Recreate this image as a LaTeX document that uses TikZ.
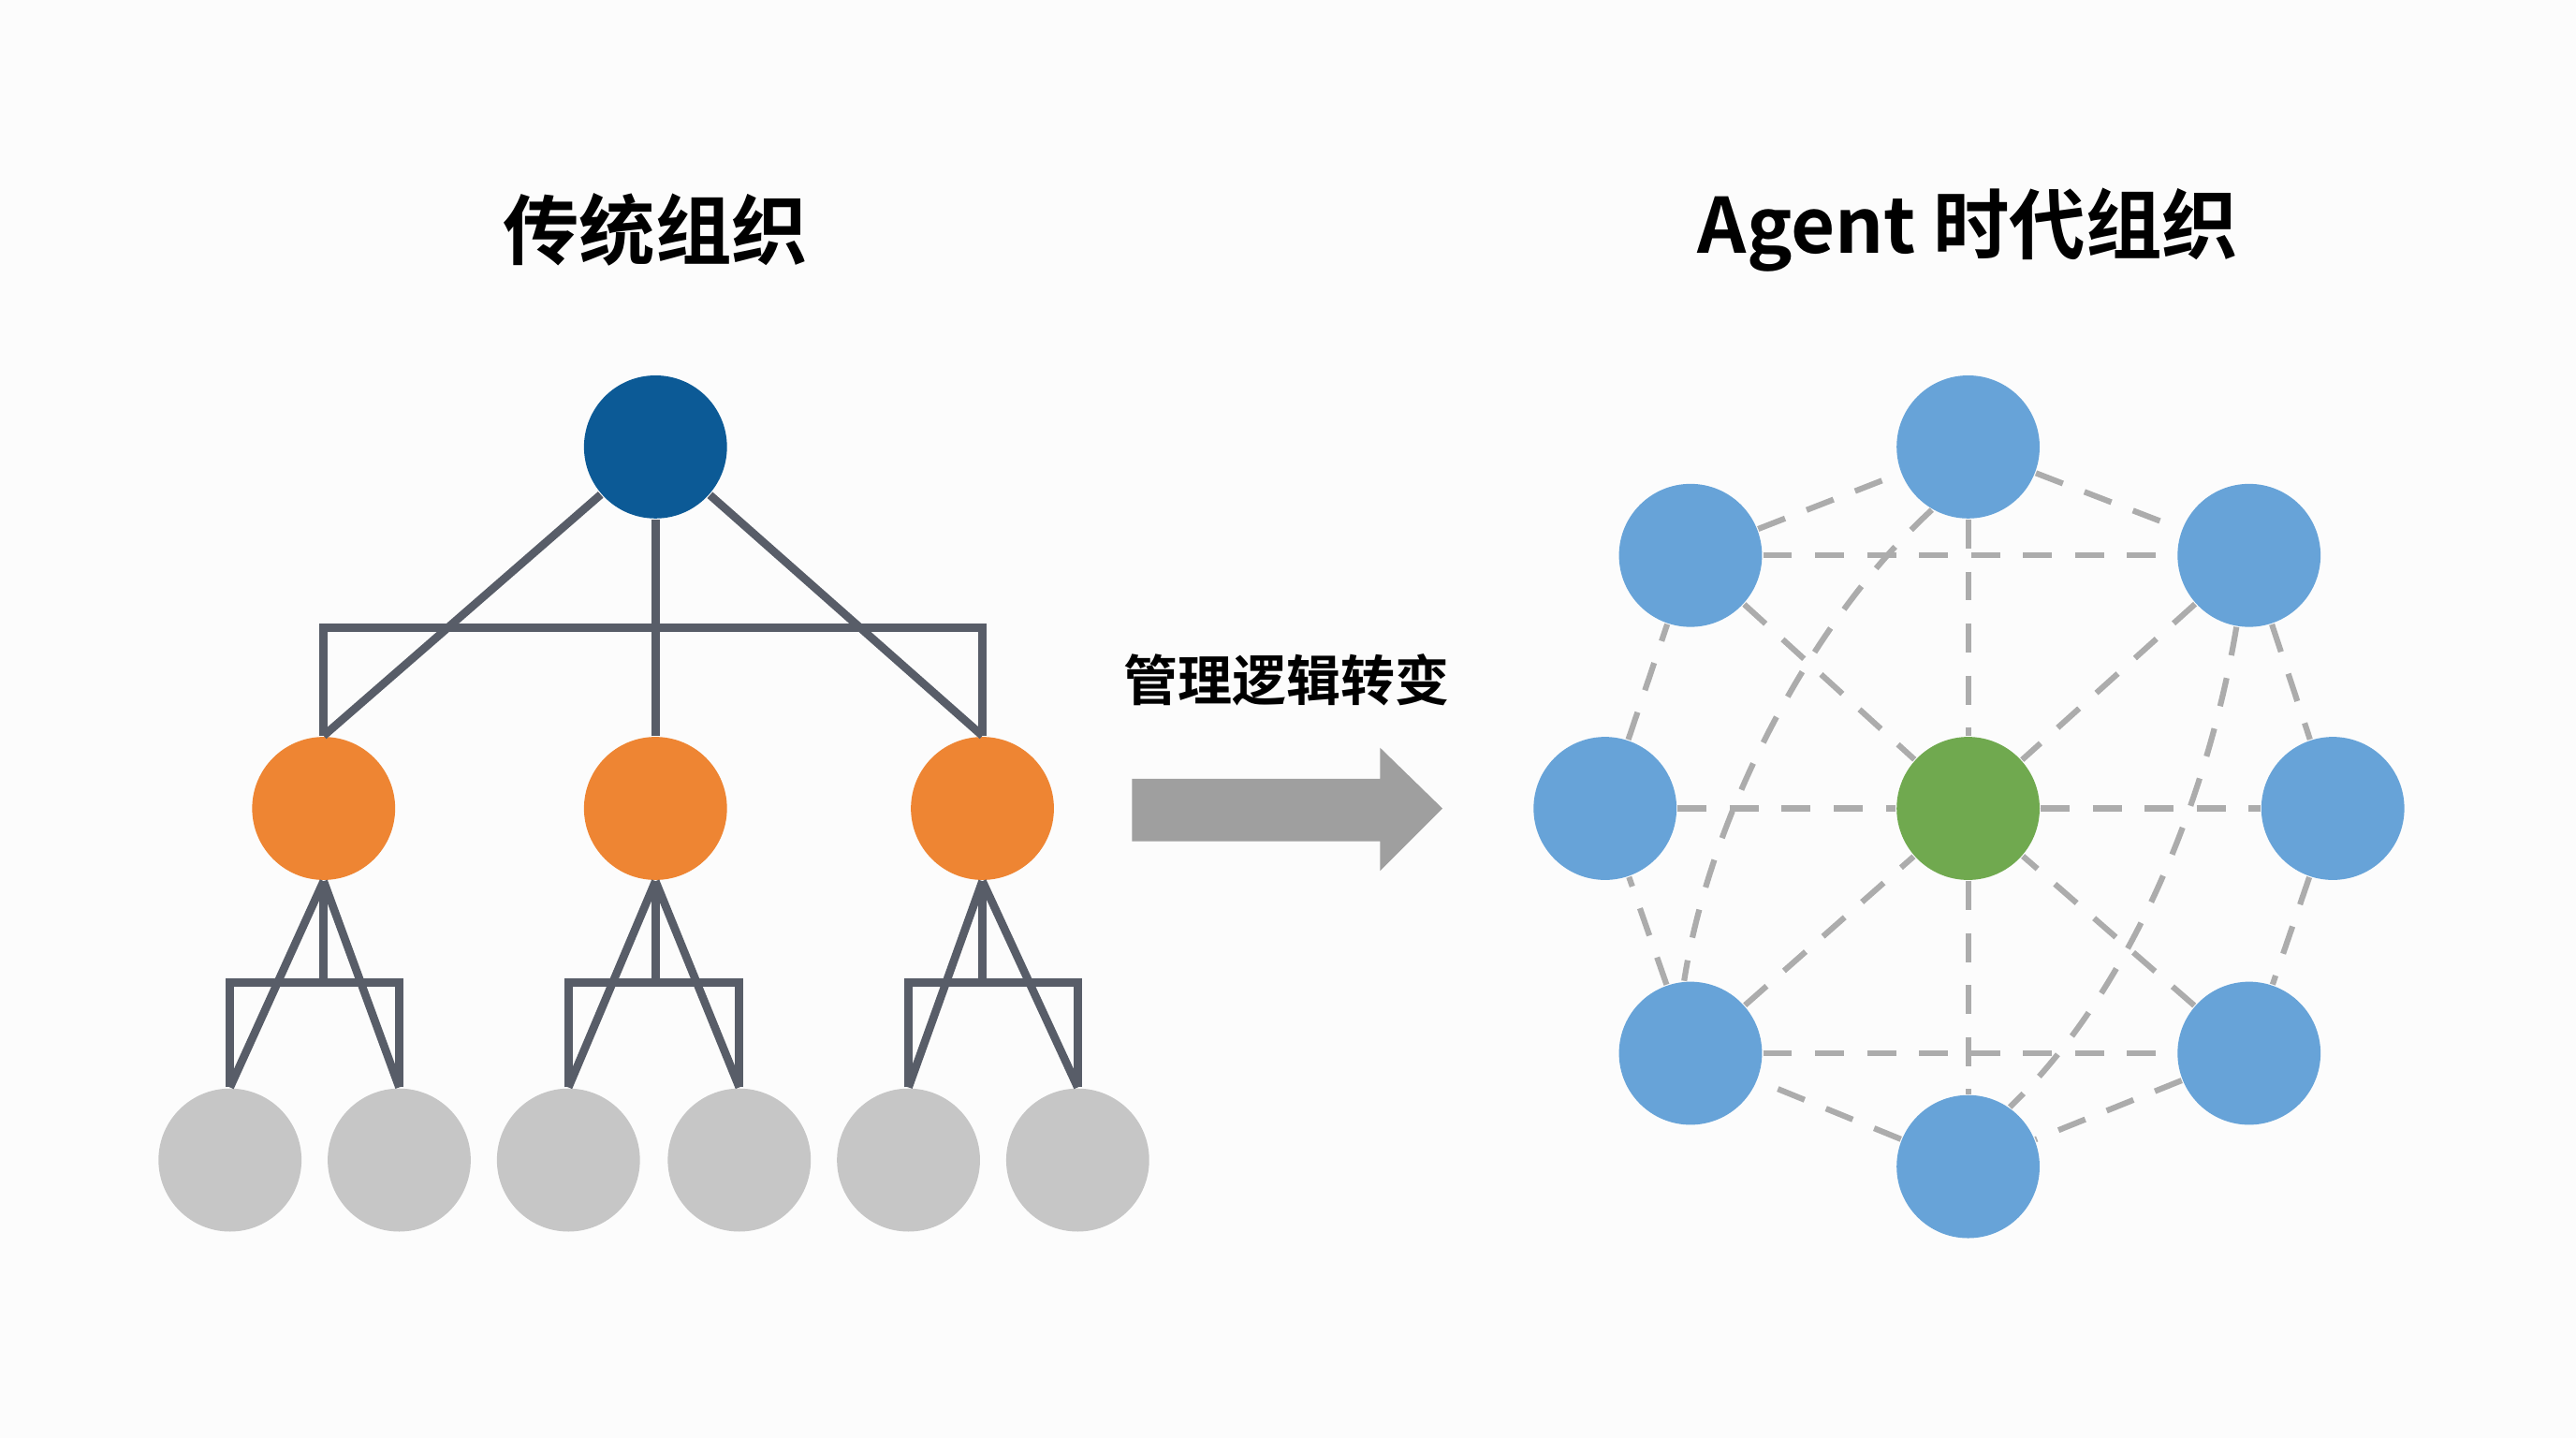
\documentclass[tikz,border=0pt]{standalone}
\usepackage{fontspec}
\setmainfont{Noto Sans CJK SC}[BoldFont={* Bold}]
\begin{document}
\begin{tikzpicture}[x=0.01cm,y=-0.01cm,
  nd/.style={circle,minimum size=0.87cm,inner sep=0pt},
  dl/.style={draw=gray!65,line width=1pt,dash pattern=on 5pt off 4pt},
  ttl/.style={font=\bfseries\fontsize{13.2pt}{16pt}\selectfont}]
\useasboundingbox[fill=white!98!gray] (0,0) rectangle (1568,875);
\definecolor{root}{HTML}{0C5A96}\definecolor{org}{HTML}{EE8533}
\definecolor{lf}{HTML}{C6C6C6}\definecolor{bl}{HTML}{67A3D8}\definecolor{gr}{HTML}{70A94F}
\definecolor{ln}{HTML}{585D68}
\tikzset{tl/.style={draw=ln,line width=1.4pt}}
\node[ttl] (t1) at (399,140) {传统组织};
\node[ttl] (t2) at (1198,140) {Agent 时代组织};
% tree
\node[nd,fill=root] (r) at (399,272) {};
\foreach \n/\x in {a/197,b/399,c/598}{\node[nd,fill=org] (\n) at (\x,492) {};}
\foreach \n/\x in {a1/140,a2/243,b1/346,b2/450,c1/553,c2/656}{\node[nd,fill=lf] (\n) at (\x,706) {};}
\draw[tl] (r) -- (a.north); \draw[tl] (r) -- (c.north); \draw[tl] (r) -- (b);
\draw[tl] (a.north) -- (a.north|-0,382) -- (c.north|-0,382) -- (c.north);
\foreach \p/\u/\v in {a/a1/a2,b/b1/b2,c/c1/c2}{
  \draw[tl] (\p.south) -- (\u.north); \draw[tl] (\p.south) -- (\v.north);
  \draw[tl] (\p.south) -- (\p.south|-0,598);
  \draw[tl] (\u.north) -- (\u.north|-0,598) -- (\v.north|-0,598) -- (\v.north);}
% arrow
\node[font=\bfseries\fontsize{9.4pt}{11pt}\selectfont] (lab) at (783,414) {管理逻辑转变};
\fill[gray!75] (689,474) -- (840,474) -- (840,455) -- (878,492) -- (840,530) -- (840,512) -- (689,512) -- cycle;
% network
\node[nd,fill=bl] (n1) at (1198,272) {};
\node[nd,fill=bl] (n2) at (1369,338) {};
\node[nd,fill=bl] (n3) at (1420,492) {};
\node[nd,fill=bl] (n4) at (1369,641) {};
\node[nd,fill=bl] (n5) at (1198,710) {};
\node[nd,fill=bl] (n6) at (1029,641) {};
\node[nd,fill=bl] (n7) at (977,492) {};
\node[nd,fill=bl] (n8) at (1029,338) {};
\node[nd,fill=gr] (c0) at (1198,492) {};
\foreach \a/\b in {n1/n2,n2/n3,n3/n4,n4/n5,n5/n6,n6/n7,n7/n8,n8/n1,n8/n2,n6/n4,n1/c0,c0/n5,n7/c0,c0/n3,n8/c0,n2/c0,n6/c0,n4/c0}
  \draw[dl] (\a) -- (\b);
\draw[dl] (n1.240) .. controls (1100,380) and (1040,500) .. (n6.95);
\draw[dl] (n2.260) .. controls (1345,480) and (1300,600) .. (n5.55);
\end{tikzpicture}
\end{document}
